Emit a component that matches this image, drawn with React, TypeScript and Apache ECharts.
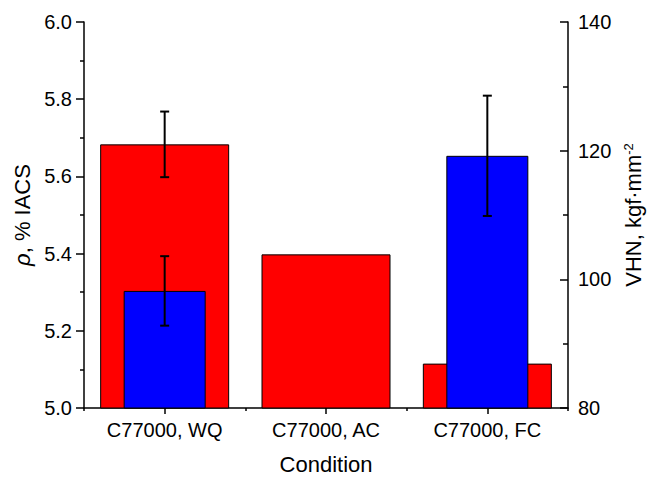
import React, { useEffect, useRef } from "react";
import * as echarts from "echarts";

const categories = ["C77000, WQ", "C77000, AC", "C77000, FC"];
const rhoValues = [5.683, 5.398, 5.115];
const rhoErrors = [0.085, 0, 0];
const vhnValues: (number | null)[] = [98.2, null, 119.2];
const vhnErrors = [5.4, 0, 9.35];
const rhoTicks = { min: 5.0, max: 6.0, interval: 0.2 };
const vhnTicks = { min: 80, max: 140, interval: 20 };

const FONT = "Liberation Sans, Arial, sans-serif";

function errData(values: (number | null)[], errs: number[]) {
  const out: number[][] = [];
  values.forEach((v, i) => {
    if (v != null && errs[i] > 0) out.push([i, v, errs[i]]);
  });
  return out;
}

function errRender(params: any, api: any) {
  const x = api.value(0);
  const v = api.value(1);
  const e = api.value(2);
  const top = api.coord([x, v + e]);
  const bot = api.coord([x, v - e]);
  const cap = 4.5;
  const style = { stroke: "#000", lineWidth: 2 };
  return {
    type: "group",
    children: [
      { type: "line", shape: { x1: top[0], y1: top[1], x2: bot[0], y2: bot[1] }, style },
      { type: "line", shape: { x1: top[0] - cap, y1: top[1], x2: top[0] + cap, y2: top[1] }, style },
      { type: "line", shape: { x1: bot[0] - cap, y1: bot[1], x2: bot[0] + cap, y2: bot[1] }, style },
    ],
  };
}

export default function App() {
  const ref = useRef<HTMLDivElement>(null);
  useEffect(() => {
    if (!ref.current) return;
    const chart = echarts.init(ref.current, null, { renderer: "svg" });
    const axisLine = { show: true, lineStyle: { color: "#000", width: 1.5 } };
    chart.setOption({
      animation: false,
      textStyle: { fontFamily: FONT },
      grid: { left: 84, right: 86, top: 22, bottom: 70 },
      xAxis: [
        {
          type: "category",
          data: categories,
          axisLine,
          axisTick: { show: true, alignWithLabel: true, length: 6, lineStyle: { color: "#000", width: 1.5 } },
          axisLabel: { color: "#000", fontSize: 20, fontFamily: FONT, margin: 12 },
          name: "Condition",
          nameLocation: "middle",
          nameGap: 45,
          nameTextStyle: { color: "#000", fontSize: 22, fontFamily: FONT },
          splitLine: { show: false },
        },
        {
          type: "category",
          data: categories,
          position: "bottom",
          axisLine: { show: false },
          axisTick: { show: true, length: 3, lineStyle: { color: "#000", width: 1.5 } },
          axisLabel: { show: false },
          splitLine: { show: false },
        },
      ],
      yAxis: [
        {
          type: "value",
          min: rhoTicks.min,
          max: rhoTicks.max,
          interval: rhoTicks.interval,
          position: "left",
          axisLine,
          axisTick: { show: true, length: 8, lineStyle: { color: "#000", width: 1.5 } },
          minorTick: { show: true, splitNumber: 2, length: 4, lineStyle: { color: "#000", width: 1.5 } },
          axisLabel: {
            color: "#000",
            fontSize: 20,
            fontFamily: FONT,
            margin: 12,
            formatter: (v: number) => v.toFixed(1),
          },
          splitLine: { show: false },
          name: "{i|ρ}, % IACS",
          nameLocation: "middle",
          nameRotate: 90,
          nameGap: 49,
          nameTextStyle: {
            color: "#000",
            fontSize: 22,
            fontFamily: FONT,
            rich: { i: { fontStyle: "italic", fontSize: 22, fontFamily: FONT, color: "#000" } },
          },
        },
        {
          type: "value",
          min: vhnTicks.min,
          max: vhnTicks.max,
          interval: vhnTicks.interval,
          position: "right",
          axisLine,
          axisTick: { show: true, inside: true, length: 8, lineStyle: { color: "#000", width: 1.5 } },
          minorTick: { show: true, splitNumber: 2, length: 5, lineStyle: { color: "#000", width: 1.5 } },
          axisLabel: { color: "#000", fontSize: 20, fontFamily: FONT, margin: 10 },
          splitLine: { show: false },
          name: "VHN, kgf·mm{s|-2}",
          nameLocation: "middle",
          nameRotate: 90,
          nameGap: 52,
          nameTextStyle: {
            color: "#000",
            fontSize: 22,
            fontFamily: FONT,
            rich: { s: { fontSize: 13, fontFamily: FONT, color: "#000", verticalAlign: "top" } },
          },
        },
      ],
      series: [
        {
          type: "bar",
          name: "rho",
          xAxisIndex: 0,
          yAxisIndex: 0,
          data: rhoValues,
          barWidth: 129,
          itemStyle: { color: "#FF0000", borderColor: "#000", borderWidth: 1 },
        },
        {
          type: "custom",
          xAxisIndex: 0,
          yAxisIndex: 0,
          z: 10,
          data: errData(rhoValues, rhoErrors),
          renderItem: errRender,
        },
        {
          type: "bar",
          name: "vhn",
          xAxisIndex: 1,
          yAxisIndex: 1,
          data: vhnValues,
          barWidth: 82,
          itemStyle: { color: "#0000FF", borderColor: "#000", borderWidth: 1 },
        },
        {
          type: "custom",
          xAxisIndex: 1,
          yAxisIndex: 1,
          z: 10,
          data: errData(vhnValues, vhnErrors),
          renderItem: errRender,
        },
      ],
    });
    return () => chart.dispose();
  }, []);
  return <div ref={ref} style={{ position: "absolute", left: 0, top: 0, width: 654, height: 480 }} />;
}
